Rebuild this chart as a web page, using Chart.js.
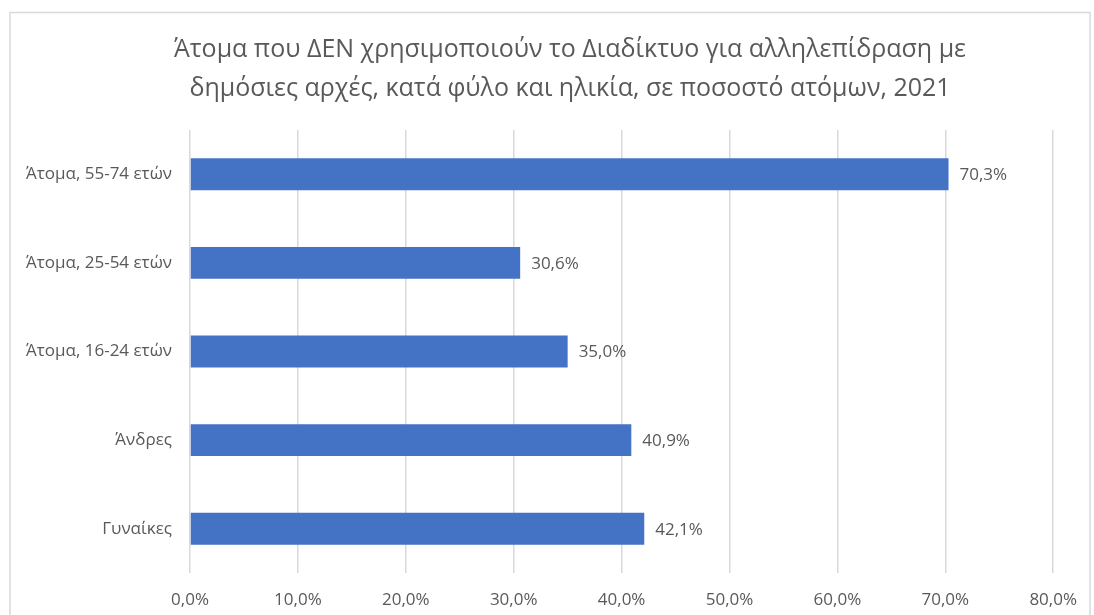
<!DOCTYPE html>
<html>
<head>
<meta charset="utf-8">
<script src="https://cdn.jsdelivr.net/npm/chart.js@4"></script>
<style>
  body { margin: 0; background: #fff; }
  #wrap { width: 1094px; height: 615px; }
</style>
</head>
<body>
<div id="wrap"><canvas id="bar_chart_canvas" width="1094" height="615"></canvas></div>
<script>
// categories, top to bottom
var categories = ['Άτομα, 55-74 ετών', 'Άτομα, 25-54 ετών', 'Άτομα, 16-24 ετών', 'Άνδρες', 'Γυναίκες'];
// percent of persons
var values = [70.3, 30.6, 35.0, 40.9, 42.1];
var xTicks = [0, 10, 20, 30, 40, 50, 60, 70, 80];
var titleLines = ['Άτομα που ΔΕΝ χρησιμοποιούν το Διαδίκτυο για αλληλεπίδραση με', 'δημόσιες αρχές, κατά φύλο και ηλικία, σε ποσοστό ατόμων, 2021'];

function pct(v) {
  return v.toFixed(1).replace('.', ',') + '%';
}

// white background, outer frame and title (centered like the original, not over the plot)
var framePlugin = {
  id: 'frame',
  beforeDraw: function (chart) {
    var c = chart.ctx;
    c.save();
    c.fillStyle = '#fff';
    c.fillRect(0, 0, chart.width, chart.height);
    c.strokeStyle = '#d9d9d9';
    c.lineWidth = 1.5;
    c.beginPath();
    c.moveTo(10, 620);
    c.lineTo(10, 12.5);
    c.lineTo(1090, 12.5);
    c.lineTo(1090, 620);
    c.stroke();

    c.font = '25px "Open Sans"';
    c.fillStyle = '#595959';
    c.textAlign = 'center';
    c.textBaseline = 'middle';
    c.fillText(titleLines[0], 570, 50);
    c.fillText(titleLines[1], 570, 89);
    c.restore();
  }
};

// value labels at end of bars
var labelPlugin = {
  id: 'barLabels',
  afterDatasetsDraw: function (chart) {
    var c = chart.ctx;
    var meta = chart.getDatasetMeta(0);
    c.save();
    c.font = '17px "Open Sans"';
    c.fillStyle = '#595959';
    c.textAlign = 'left';
    c.textBaseline = 'middle';
    meta.data.forEach(function (bar, i) {
      c.fillText(pct(values[i]), bar.x + 11, bar.y + 1);
    });
    c.restore();
  }
};

var ctx = document.getElementById('bar_chart_canvas').getContext('2d');
var chart = new Chart(ctx, {
  type: 'bar',
  data: {
    labels: categories,
    datasets: [{
      data: values,
      backgroundColor: '#4472c4',
      borderWidth: 0,
      categoryPercentage: 1,
      barPercentage: 0.36
    }]
  },
  options: {
    indexAxis: 'y',
    responsive: false,
    animation: false,
    layout: { padding: { left: 0, right: 30, top: 130, bottom: 0 } },
    plugins: {
      legend: { display: false },
      tooltip: { enabled: false },
      title: { display: false }
    },
    scales: {
      x: {
        min: 0,
        max: 80,
        afterBuildTicks: function (axis) {
          axis.ticks = xTicks.map(function (v) { return { value: v }; });
        },
        afterFit: function (axis) { axis.height = 42; },
        grid: { color: '#d9d9d9', lineWidth: 1.5, drawTicks: false },
        border: { display: false },
        ticks: {
          padding: 17,
          color: '#595959',
          font: { family: '"Open Sans"', size: 17 },
          callback: function (v) { return pct(v); }
        }
      },
      y: {
        afterFit: function (axis) { axis.width = 190; },
        grid: { display: false, drawTicks: false },
        border: { display: false },
        ticks: {
          padding: 18,
          color: '#595959',
          font: { family: '"Open Sans"', size: 17 }
        }
      }
    }
  },
  plugins: [framePlugin, labelPlugin]
});
</script>
</body>
</html>
